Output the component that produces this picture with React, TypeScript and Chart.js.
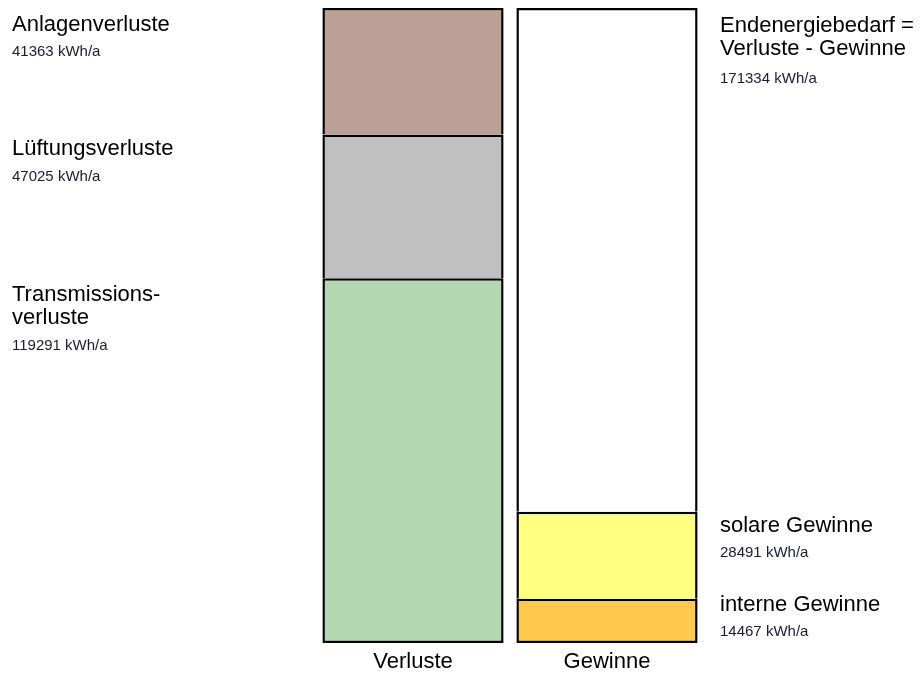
import React, { useEffect, useRef } from "react";
import { Chart, registerables } from "chart.js";

Chart.register(...registerables);

const categories = ["Verluste", "Gewinne"];

// Verluste (bottom -> top)
const lossNames = [["Transmissions-", "verluste"], ["Lüftungsverluste"], ["Anlagenverluste"]];
const lossValues = [119291, 47025, 41363];

// Gewinne (bottom -> top)
const gainNames = [["interne Gewinne"], ["solare Gewinne"], ["Endenergiebedarf =", "Verluste - Gewinne"]];
const gainValues = [14467, 28491, 171334];
// drawn height of the white segment (fills up to the top of the loss bar)
const gainBarValues = [14467, 28491, 164721];

const levelColorsLoss = ["#B3D7B1", "#C0C0C0", "#BDA095"];
const levelColorsGain = ["#FFC94B", "#FFFF80", "#FFFFFF"];

// label layout (offsets from segment top, px)
const lossTitleOffsets = [22.5, 21, 22.5];
const gainTitleOffsets = [12, 20.7, 23.7];
const gainValueGaps = [25.7, 25, 27.7];

const fmt = (v: number) => `${v} kWh/a`;

export default function App() {
  const ref = useRef<HTMLCanvasElement | null>(null);

  useEffect(() => {
    if (!ref.current) return;
    const total = lossValues.reduce((a, b) => a + b, 0);

    const labelPlugin = {
      id: "sideLabels",
      afterDatasetsDraw(chart: any) {
        const ctx = chart.ctx;
        const y = chart.scales.y;
        ctx.save();
        ctx.textAlign = "left";
        ctx.textBaseline = "alphabetic";
        const draw = (x: number, topVal: number, lines: string[], value: number, off: number, gap: number) => {
          const top = y.getPixelForValue(topVal);
          let b = top + off;
          ctx.font = '22px "Liberation Sans", Arial, sans-serif';
          ctx.fillStyle = "#000000";
          lines.forEach((ln, i) => {
            if (i > 0) b += 23.6;
            ctx.fillText(ln, x, b);
          });
          ctx.font = '15px "Liberation Sans", Arial, sans-serif';
          ctx.fillStyle = "#1a1a38";
          ctx.fillText(fmt(value), x, b + gap);
        };
        let cum = 0;
        lossValues.forEach((v, i) => {
          cum += v;
          draw(12, cum, lossNames[i], v, lossTitleOffsets[i], 25.5);
        });
        cum = 0;
        gainBarValues.forEach((v, i) => {
          cum += v;
          draw(720, cum, gainNames[i], gainValues[i], gainTitleOffsets[i], gainValueGaps[i]);
        });
        ctx.restore();
      },
    };

    const datasets = [0, 1, 2].map((lvl) => ({
      label: `level${lvl}`,
      data: [lossValues[lvl], gainBarValues[lvl]],
      backgroundColor: [levelColorsLoss[lvl], levelColorsGain[lvl]],
      borderColor: "#000000",
      borderWidth: 2.5,
      borderSkipped: lvl === 0 ? false : "start",
      categoryPercentage: 1,
      barPercentage: 0.934,
    }));

    const chart = new Chart(ref.current, {
      type: "bar",
      data: { labels: categories, datasets: datasets as any },
      options: {
        animation: false,
        responsive: false,
        maintainAspectRatio: false,
        layout: { padding: { left: 316, right: 216, top: 8, bottom: 0 } },
        plugins: { legend: { display: false }, tooltip: { enabled: false } },
        scales: {
          x: {
            stacked: true,
            grid: { display: false, drawTicks: false },
            border: { display: false },
            afterFit: (scale: any) => {
              scale.height = 30;
            },
            ticks: {
              color: "#000000",
              padding: 6,
              font: { family: '"Liberation Sans", Arial, sans-serif', size: 22 },
            },
          },
          y: {
            stacked: true,
            display: false,
            min: 0,
            max: total,
          },
        },
      },
      plugins: [labelPlugin],
    });
    return () => chart.destroy();
  }, []);

  return (
    <div style={{ position: "fixed", left: 0, top: 0, width: 920, height: 673, background: "#ffffff" }}>
      <canvas ref={ref} width={920} height={673} style={{ width: 920, height: 673, display: "block" }} />
    </div>
  );
}
